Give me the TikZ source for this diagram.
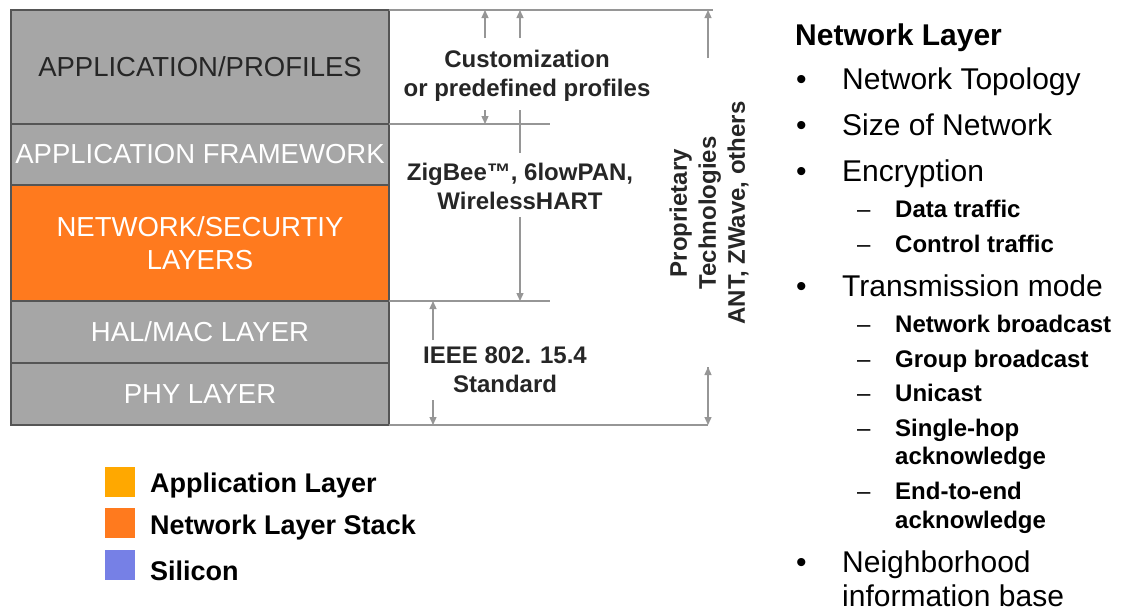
\documentclass[tikz,border=0pt]{standalone}
\usepackage{fontspec}
\setmainfont{Liberation Sans}
\usetikzlibrary{arrows.meta, positioning}

\definecolor{stackgray}{RGB}{166,166,166}
\definecolor{stackline}{RGB}{85,85,85}
\definecolor{netorange}{RGB}{255,122,30}
\definecolor{appyellow}{RGB}{255,168,0}
\definecolor{siliconblue}{RGB}{118,128,230}
\definecolor{gridgray}{RGB}{150,150,150}

\tikzset{
  layerbox/.style={draw=stackline, line width=1.2pt, fill=stackgray, minimum width=378pt,
    inner sep=0pt, outer sep=0pt, text=white, align=center, font=\fontsize{27.5}{33}\selectfont},
  gridline/.style={draw=gridgray, line width=1.3pt},
  midtext/.style={align=center, text=black!85, font=\bfseries\fontsize{24}{29}\selectfont},
  legendbox/.style={minimum width=30pt, minimum height=30pt, inner sep=0pt},
  legendtext/.style={anchor=base west, inner sep=0pt, font=\bfseries\fontsize{27}{32}\selectfont},
  headtext/.style={anchor=base west, inner sep=0pt, font=\bfseries\fontsize{30}{36}\selectfont},
  bigitem/.style={anchor=base west, inner sep=0pt, font=\fontsize{30}{36}\selectfont},
  subitem/.style={anchor=base west, inner sep=0pt, font=\bfseries\fontsize{24}{29}\selectfont},
  subdash/.style={anchor=base west, inner sep=0pt, font=\fontsize{24}{29}\selectfont}
}

\begin{document}
\begin{tikzpicture}[x=1pt, y=-1pt, >={Triangle[length=8pt,width=7pt]}]
\useasboundingbox (0,0) rectangle (1123,611);

% the stack
\node[layerbox, minimum height=114pt, anchor=north west, text=black!85] (prof) at (11,10) {APPLICATION/PROFILES};
\node[layerbox, minimum height=61pt, below=0pt of prof] (frame) {APPLICATION FRAMEWORK};
\node[layerbox, minimum height=116pt, fill=netorange, below=0pt of frame] (netsec) {NETWORK/SECURTIY\\LAYERS};
\node[layerbox, minimum height=62pt, below=0pt of netsec] (halmac) {HAL/MAC LAYER};
\node[layerbox, minimum height=62pt, below=0pt of halmac] (phy) {PHY LAYER};

% guide lines
\coordinate (topend) at (713,10);
\coordinate (midA) at (550,124);
\coordinate (midB) at (550,301);
\coordinate (botend) at (708,425);
\draw[gridline] (prof.north east) -- (topend);
\draw[gridline] (prof.south east) -- (midA);
\draw[gridline] (netsec.south east) -- (midB);
\draw[gridline] (phy.south east) -- (botend);

% labels
\node[midtext] (cust) at (527,76) {Customization\\or predefined profiles};
\node[midtext] (zig) at (520,186) {ZigBee™, 6lowPAN,\\WirelessHART};
\node[midtext] (ieee) at (505,370) {IEEE 802. 15.4\\Standard};
\node[midtext, rotate=90] (prop) at (709,213) {Proprietary\\Technologies\\ANT, ZWave, others};

% arrow ends
\coordinate (c1) at (485,38);  \coordinate (c1top) at (485,10);
\coordinate (c2) at (485,110); \coordinate (c2bot) at (485,124);
\coordinate (z1) at (520,38);  \coordinate (z1top) at (520,10);
\coordinate (z2) at (520,110); \coordinate (z3) at (520,153);
\coordinate (z4) at (520,217); \coordinate (z4bot) at (520,301);
\coordinate (i1) at (433,340); \coordinate (i1top) at (433,301);
\coordinate (i2) at (433,400); \coordinate (i2bot) at (433,425);
\coordinate (p1) at (708,58);  \coordinate (p1top) at (708,10);
\coordinate (p2) at (708,367); \coordinate (p2bot) at (708,425);

\path[->, gridline, fill=gridgray]
  (c1) edge (c1top)
  (c2) edge (c2bot)
  (z1) edge (z1top)
  (z4) edge (z4bot)
  (i1) edge (i1top)
  (i2) edge (i2bot)
  (p1) edge (p1top)
  (p2) edge (p2bot)
  ;
\draw[gridline] (z2) -- (z3);

% legend
\node[legendbox, fill=appyellow] (kapp) at (120,482) {};
\node[legendbox, fill=netorange] (knet) at (120,523) {};
\node[legendbox, fill=siliconblue] (ksil) at (120,565) {};
\node[legendtext] (tapp) at (150,492) {Application Layer};
\node[legendtext] (tnet) at (150,534) {Network Layer Stack};
\node[legendtext] (tsil) at (150,580) {Silicon};

% network layer list
\node[headtext] (head) at (795,45) {Network Layer};
\node[bigitem] (b1) at (796,89) {•};
\node[bigitem] (topo) at (842,89) {Network Topology};
\node[bigitem] (b2) at (796,135) {•};
\node[bigitem] (size) at (842,135) {Size of Network};
\node[bigitem] (b3) at (796,181) {•};
\node[bigitem] (enc) at (842,181) {Encryption};
\node[subdash] (d1) at (857,217) {–};
\node[subitem] (data) at (895,217) {Data traffic};
\node[subdash] (d2) at (857,252) {–};
\node[subitem] (ctrl) at (895,252) {Control traffic};
\node[bigitem] (b4) at (796,296) {•};
\node[bigitem] (trans) at (842,296) {Transmission mode};
\node[subdash] (d3) at (857,332) {–};
\node[subitem] (nbc) at (895,332) {Network broadcast};
\node[subdash] (d4) at (857,367) {–};
\node[subitem] (gbc) at (895,367) {Group broadcast};
\node[subdash] (d5) at (857,401) {–};
\node[subitem] (uni) at (895,401) {Unicast};
\node[subdash] (d6) at (857,436) {–};
\node[subitem] (shop) at (895,436) {Single-hop};
\node[subitem] (shack) at (895,464) {acknowledge};
\node[subdash] (d7) at (857,499) {–};
\node[subitem] (eend) at (895,499) {End-to-end};
\node[subitem] (eeack) at (895,528) {acknowledge};
\node[bigitem] (b5) at (796,572) {•};
\node[bigitem] (neigh) at (842,572) {Neighborhood};
\node[bigitem] (info) at (842,606) {information base};
\end{tikzpicture}
\end{document}
